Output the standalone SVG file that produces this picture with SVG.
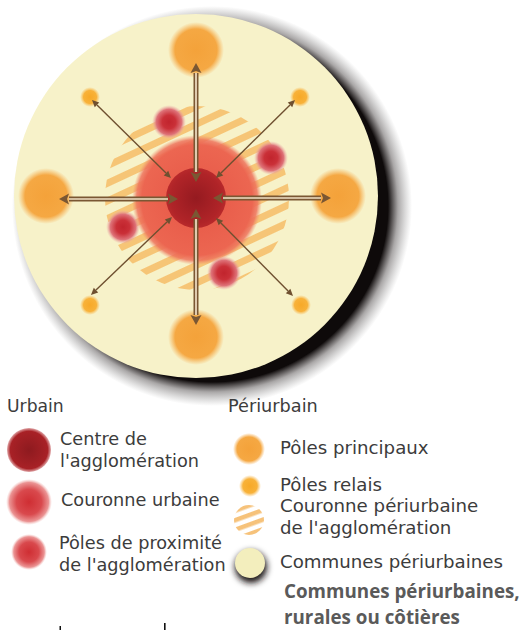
<svg xmlns="http://www.w3.org/2000/svg" width="522" height="630" viewBox="0 0 522 630">
<defs>
<style>
.lbl{font-family:"DejaVu Sans","Liberation Sans",sans-serif;font-size:17.7px;fill:#3c3c3c}
.lblr{font-size:18.2px}
.bold{font-family:"Open Sans","Liberation Sans",sans-serif;font-size:18.8px;font-weight:700;fill:#5a5a5a}
.main{stroke:#7a5733;stroke-width:5;fill:none;marker-start:url(#ah);marker-end:url(#ah)}
.core{stroke:#f2e0c6;stroke-width:1.7;fill:none}
.diag{stroke:#6f5030;stroke-width:1.4;fill:none;marker-start:url(#ahs);marker-end:url(#ahs)}
</style>
<filter id="blur3" x="-50%" y="-50%" width="200%" height="200%"><feGaussianBlur stdDeviation="3"/></filter>
<radialGradient id="gShadow" gradientUnits="userSpaceOnUse" cx="212" cy="206" r="200">
<stop offset="0.88" stop-color="#0e0a0a" stop-opacity="1"/>
<stop offset="0.93" stop-color="#2a2424" stop-opacity="0.4"/>
<stop offset="1" stop-color="#555" stop-opacity="0"/>
</radialGradient>
<radialGradient id="gPrin"><stop offset="0" stop-color="#f4a23a"/><stop offset="0.75" stop-color="#f5a843"/><stop offset="1" stop-color="#f7b35a" stop-opacity="0"/></radialGradient>
<radialGradient id="gRel"><stop offset="0" stop-color="#f7a928"/><stop offset="0.65" stop-color="#f8b23a"/><stop offset="1" stop-color="#f9c060" stop-opacity="0"/></radialGradient>
<radialGradient id="gCour"><stop offset="0" stop-color="#e65646"/><stop offset="0.85" stop-color="#ec6651"/><stop offset="0.93" stop-color="#ee735c" stop-opacity="0.85"/><stop offset="1" stop-color="#f09070" stop-opacity="0"/></radialGradient>
<radialGradient id="gCen"><stop offset="0" stop-color="#951a20"/><stop offset="0.85" stop-color="#b02428"/><stop offset="1" stop-color="#b8292b"/></radialGradient>
<radialGradient id="gProx"><stop offset="0" stop-color="#c1242d"/><stop offset="0.4" stop-color="#ca3038"/><stop offset="0.75" stop-color="#de7278"/><stop offset="1" stop-color="#eeb4b0" stop-opacity="0"/></radialGradient>
<radialGradient id="gCenL"><stop offset="0" stop-color="#8e1a1f"/><stop offset="0.85" stop-color="#a82126"/><stop offset="1" stop-color="#b2272b" stop-opacity="0.4"/></radialGradient>
<radialGradient id="gCourL"><stop offset="0" stop-color="#cf2e33"/><stop offset="0.55" stop-color="#d9494d"/><stop offset="0.85" stop-color="#eb9494"/><stop offset="1" stop-color="#f5c6c2" stop-opacity="0"/></radialGradient>
<pattern id="hatch" patternUnits="userSpaceOnUse" width="40" height="16" patternTransform="rotate(-25)">
<rect x="0" y="0" width="40" height="7" fill="#f6c576"/>
</pattern>
<pattern id="hatchL" patternUnits="userSpaceOnUse" width="30" height="9" patternTransform="rotate(-20)">
<rect x="0" y="0" width="30" height="4.5" fill="#f6c27a"/>
</pattern>
<marker id="ah" markerUnits="userSpaceOnUse" markerWidth="12" markerHeight="12" refX="0" refY="5.5" orient="auto-start-reverse" overflow="visible">
<path d="M0,0 L10,5.5 L0,11 L2,5.5 z" fill="#7a5733"/>
</marker>
<marker id="ahs" markerUnits="userSpaceOnUse" markerWidth="9" markerHeight="8" refX="0" refY="3.2" orient="auto-start-reverse" overflow="visible">
<path d="M0,0 L7,3.2 L0,6.4 z" fill="#6f5030"/>
</marker>
</defs>

<g id="territoire">
<circle cx="212" cy="206" r="200" fill="url(#gShadow)"/>
<circle cx="196" cy="196" r="182" fill="#f7f2c9"/>
</g>

<g id="couronne-periurbaine">
<circle cx="197" cy="198" r="92" fill="url(#hatch)"/>
</g>

<g id="couronne-urbaine">
<circle cx="197" cy="200" r="65" fill="url(#gCour)"/>
</g>

<g id="poles-proximite">
<circle cx="169" cy="122" r="17" fill="url(#gProx)"/>
<circle cx="271" cy="158" r="17" fill="url(#gProx)"/>
<circle cx="123" cy="227" r="17" fill="url(#gProx)"/>
<circle cx="224" cy="273" r="17" fill="url(#gProx)"/>
</g>

<g id="poles-principaux">
<circle cx="196" cy="50" r="28" fill="url(#gPrin)"/>
<circle cx="46" cy="196" r="28" fill="url(#gPrin)"/>
<circle cx="338" cy="196" r="28" fill="url(#gPrin)"/>
<circle cx="196" cy="337" r="28" fill="url(#gPrin)"/>
</g>

<g id="poles-relais">
<circle cx="90" cy="97" r="10" fill="url(#gRel)"/>
<circle cx="300" cy="97" r="10" fill="url(#gRel)"/>
<circle cx="90" cy="305" r="10" fill="url(#gRel)"/>
<circle cx="301" cy="305" r="10" fill="url(#gRel)"/>
</g>

<g id="centre">
<circle cx="196" cy="198" r="30" fill="url(#gCen)"/>
</g>

<g id="connectors">
<line class="main" x1="196" y1="73" x2="196" y2="172"/>
<line class="core" x1="196" y1="73" x2="196" y2="172"/>
<line class="main" x1="196" y1="219" x2="196" y2="315"/>
<line class="core" x1="196" y1="219" x2="196" y2="315"/>
<line class="main" x1="69" y1="199" x2="168" y2="199"/>
<line class="core" x1="69" y1="199" x2="168" y2="199"/>
<line class="main" x1="223" y1="198" x2="321" y2="198"/>
<line class="core" x1="223" y1="198" x2="321" y2="198"/>
<line class="diag" x1="97" y1="104.9" x2="166" y2="173.1"/>
<line class="diag" x1="290" y1="104.9" x2="221" y2="173.1"/>
<line class="diag" x1="96" y1="290.1" x2="167" y2="221.9"/>
<line class="diag" x1="288.1" y1="291" x2="220.9" y2="223"/>
</g>

<g id="legende-urbain">
<text class="lbl" x="7" y="411.5" style="font-size:17.2px">Urbain</text>
<circle cx="29" cy="450" r="22" fill="url(#gCenL)"/>
<text class="lbl" x="60" y="445">Centre de</text>
<text class="lbl" x="60" y="467.3">l'agglomération</text>
<circle cx="29" cy="502" r="23" fill="url(#gCourL)"/>
<text class="lbl" x="61" y="506">Couronne urbaine</text>
<circle cx="29" cy="552" r="18" fill="url(#gCourL)"/>
<text class="lbl" x="59" y="549">Pôles de proximité</text>
<text class="lbl" x="59" y="570.7">de l'agglomération</text>
</g>

<g id="legende-periurbain">
<text class="lbl" x="228" y="412">Périurbain</text>
<circle cx="249" cy="449" r="16" fill="url(#gPrin)"/>
<text class="lbl lblr" x="280" y="454">Pôles principaux</text>
<circle cx="250" cy="486" r="11" fill="url(#gRel)"/>
<text class="lbl lblr" x="280" y="491">Pôles relais</text>
<circle cx="249" cy="520" r="15" fill="url(#hatchL)"/>
<text class="lbl lblr" x="280" y="512">Couronne périurbaine</text>
<text class="lbl lblr" x="280" y="534">de l'agglomération</text>
<circle cx="251" cy="567" r="16" fill="#1c1515" filter="url(#blur3)"/>
<circle cx="250" cy="563" r="15" fill="#f3eebd"/>
<text class="lbl lblr" x="280" y="567.7">Communes périurbaines</text>
<text class="bold" x="284" y="598">Communes périurbaines,</text>
<text class="bold" x="284" y="623.5">rurales ou côtières</text>
</g>

<g id="marks">
<rect x="59.5" y="626" width="1.5" height="4" fill="#111"/>
<rect x="164" y="623" width="1.6" height="7" fill="#111"/>
</g>
</svg>
